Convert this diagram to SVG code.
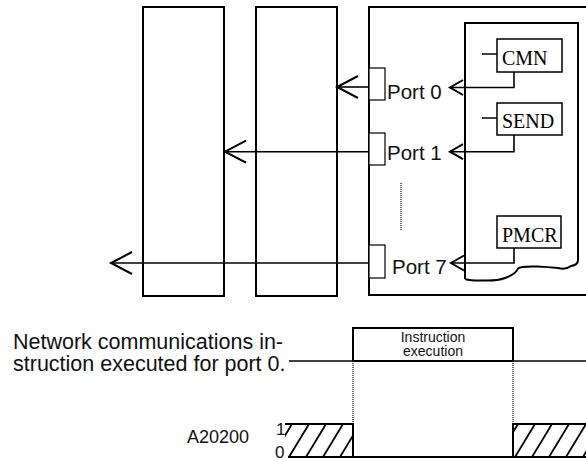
<svg xmlns="http://www.w3.org/2000/svg" width="586" height="461" viewBox="0 0 586 461">
<style>
.box{fill:none;stroke:#000;stroke-width:2}
.thin{fill:none;stroke:#000;stroke-width:1.5}
.ln{fill:none;stroke:#000;stroke-width:1.6}
.port{fill:#fff;stroke:#000;stroke-width:1.2}
.sans{font-family:"Liberation Sans",Arial,sans-serif;fill:#111}
.serif{font-family:"Liberation Serif","Times New Roman",serif;fill:#000;font-size:20px}
.dot{fill:none;stroke:#000;stroke-width:1.2;stroke-dasharray:1,1}
.hatch{stroke:#000;stroke-width:1.8}
.mid{text-anchor:middle}
</style>
<defs>
<marker id="bigArrow" markerUnits="userSpaceOnUse" orient="auto" refX="0" refY="0" markerWidth="30" markerHeight="30" overflow="visible">
<path d="M-21,-11 L0,0 L-21,11" fill="none" stroke="#000" stroke-width="2"/>
</marker>
<marker id="smallArrow" markerUnits="userSpaceOnUse" orient="auto" refX="0" refY="0" markerWidth="20" markerHeight="20" overflow="visible">
<path d="M-13,-7.5 L0,0 L-13,7.5" fill="none" stroke="#000" stroke-width="2"/>
</marker>
<clipPath id="hatchL"><rect x="285" y="424" width="68" height="33"/></clipPath>
<clipPath id="hatchR"><rect x="513" y="424" width="73" height="33"/></clipPath>
</defs>

<g id="unit1"><rect class="box" x="143" y="7" width="81" height="289"/></g>
<g id="unit2"><rect class="box" x="256" y="7" width="81" height="289"/></g>
<g id="unit3">
<rect class="box" x="369" y="7" width="225" height="288"/>
<path class="box" d="M465,279 L465,23 L578,23 L578,260 Q578,265 571,266 Q566,270 558,268 Q548,267 537,266.5 Q521,266 518,268.5 Q516,274 505,278 Q497,281 484,280.5 Q472,281 465,279"/>
</g>
<g id="port0"><rect class="port" x="369" y="68" width="16" height="32"/><text class="sans" x="387" y="99" font-size="20.5">Port 0</text></g>
<g id="port1"><rect class="port" x="369" y="133" width="16" height="32"/><text class="sans" x="387" y="160" font-size="20.5">Port 1</text></g>
<g id="port7"><rect class="port" x="369" y="245" width="16" height="33"/><text class="sans" x="392" y="274" font-size="20.5">Port 7</text></g>
<g id="cmn"><rect class="thin" x="497" y="39" width="65" height="33"/><line class="thin" x1="482" y1="54" x2="497" y2="54"/><text class="serif" x="502" y="65">CMN</text></g>
<g id="send"><rect class="thin" x="497" y="103" width="65" height="32"/><line class="thin" x1="482" y1="118" x2="497" y2="118"/><text class="serif" x="502" y="128">SEND</text></g>
<g id="pmcr"><rect class="thin" x="497" y="216" width="64" height="32"/><text class="serif" x="502" y="242">PMCR</text></g>
<line class="dot" x1="401" y1="183" x2="401" y2="230"/>

<g id="connectors">
<line class="ln" x1="369" y1="87" x2="337" y2="87" marker-end="url(#bigArrow)"/>
<line class="ln" x1="369" y1="151.7" x2="225" y2="151.7" marker-end="url(#bigArrow)"/>
<line class="ln" x1="369" y1="263" x2="111" y2="263" marker-end="url(#bigArrow)"/>
<polyline class="ln" points="514,72 514,87.5 450,87.5" marker-end="url(#smallArrow)"/>
<polyline class="ln" points="514,135 514,151.7 450,151.7" marker-end="url(#smallArrow)"/>
<polyline class="ln" points="514,248 514,263 451,263" marker-end="url(#smallArrow)"/>
</g>

<g id="timing">
<text class="sans" x="13" y="349" font-size="21.5">Network communications in-</text>
<text class="sans" x="13" y="371" font-size="21.5">struction executed for port 0.</text>
<line class="ln" x1="289" y1="361" x2="586" y2="361"/>
<g id="execBox">
<rect class="box" x="353" y="328" width="160" height="33"/>
<text class="sans mid" x="433" y="341.5" font-size="14">Instruction</text>
<text class="sans mid" x="433" y="356" font-size="14">execution</text>
</g>
<line class="dot" x1="353" y1="361" x2="353" y2="424"/>
<line class="dot" x1="513" y1="361" x2="513" y2="424"/>
<text class="sans" x="187" y="443" font-size="18">A20200</text>
<text class="sans" x="276" y="435" font-size="17">1</text>
<text class="sans" x="275" y="458" font-size="17">0</text>
<path class="box" d="M285,424 L353,424 L353,457 L513,457 L513,424 L586,424"/>
<line class="box" x1="288" y1="457" x2="586" y2="457"/>
<g clip-path="url(#hatchL)" class="hatch">
<line x1="272" y1="457" x2="292" y2="424"/>
<line x1="289" y1="457" x2="309" y2="424"/>
<line x1="306" y1="457" x2="326" y2="424"/>
<line x1="323" y1="457" x2="343" y2="424"/>
<line x1="340" y1="457" x2="360" y2="424"/>
</g>
<g clip-path="url(#hatchR)" class="hatch">
<line x1="498" y1="457" x2="518" y2="424"/>
<line x1="515" y1="457" x2="535" y2="424"/>
<line x1="532" y1="457" x2="552" y2="424"/>
<line x1="549" y1="457" x2="569" y2="424"/>
<line x1="566" y1="457" x2="586" y2="424"/>
<line x1="583" y1="457" x2="603" y2="424"/>
</g>
</g>
</svg>
